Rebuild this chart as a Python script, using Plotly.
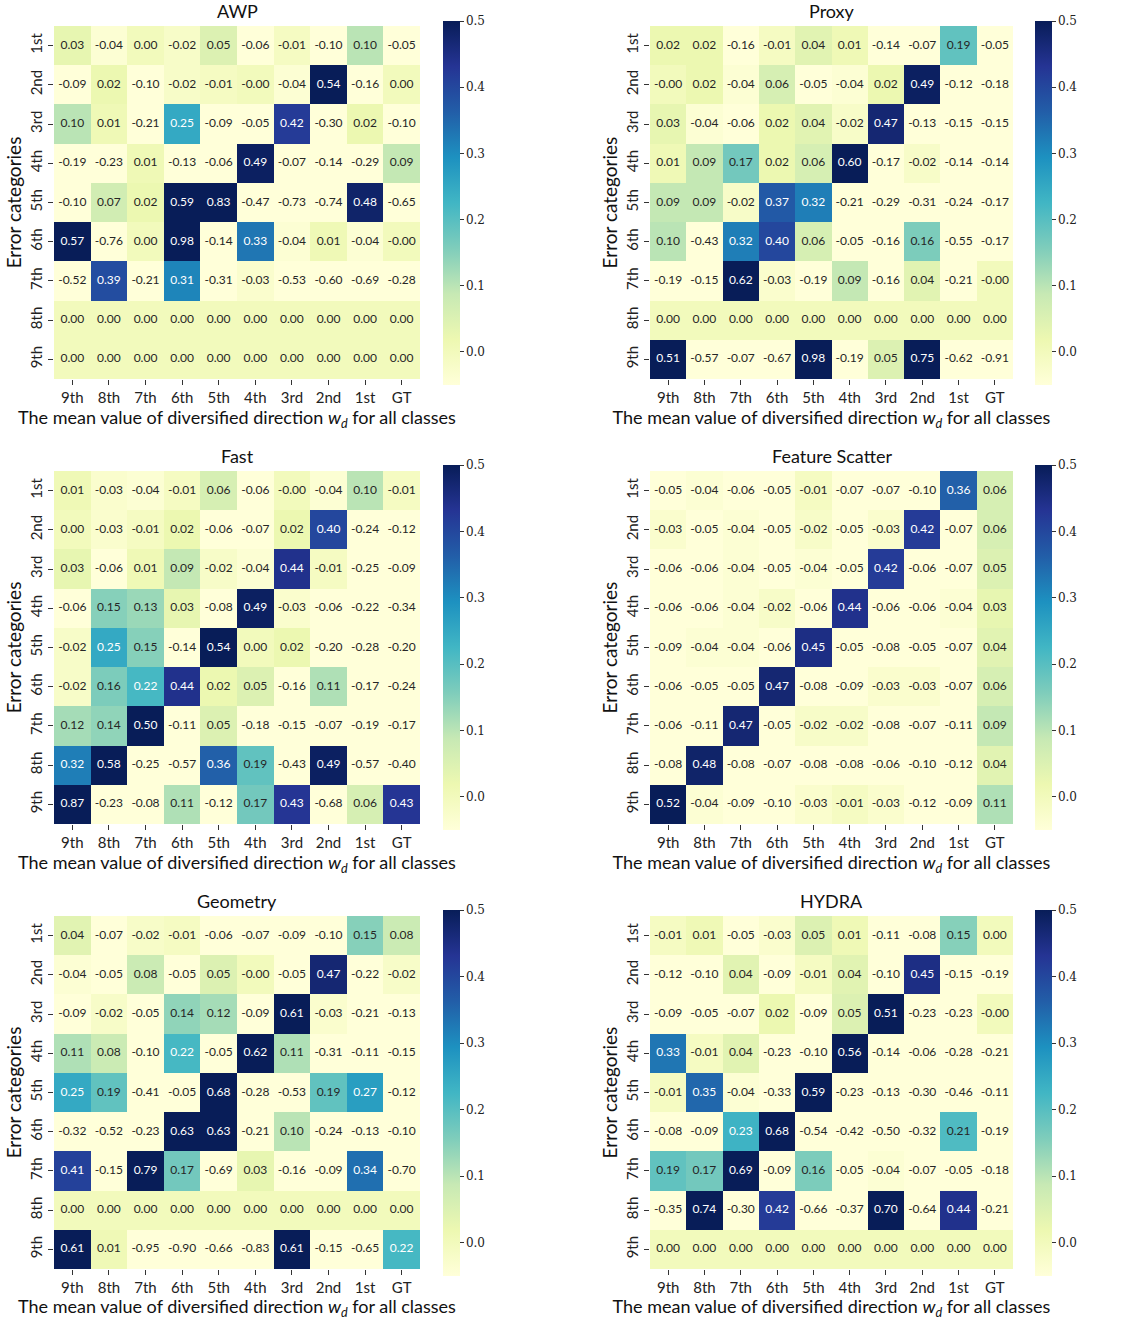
import plotly.graph_objects as go
from plotly.subplots import make_subplots

x_labels = ["9th", "8th", "7th", "6th", "5th", "4th", "3rd", "2nd", "1st", "GT"]
y_labels = ["1st", "2nd", "3rd", "4th", "5th", "6th", "7th", "8th", "9th"]
Z = [0.0] * 10

awp = [
    [0.03, -0.04, 0.00, -0.02, 0.05, -0.06, -0.01, -0.10, 0.10, -0.05],
    [-0.09, 0.02, -0.10, -0.02, -0.01, -0.0, -0.04, 0.54, -0.16, 0.00],
    [0.10, 0.01, -0.21, 0.25, -0.09, -0.05, 0.42, -0.30, 0.02, -0.10],
    [-0.19, -0.23, 0.01, -0.13, -0.06, 0.49, -0.07, -0.14, -0.29, 0.09],
    [-0.10, 0.07, 0.02, 0.59, 0.83, -0.47, -0.73, -0.74, 0.48, -0.65],
    [0.57, -0.76, 0.00, 0.98, -0.14, 0.33, -0.04, 0.01, -0.04, -0.0],
    [-0.52, 0.39, -0.21, 0.31, -0.31, -0.03, -0.53, -0.60, -0.69, -0.28],
    list(Z),
    list(Z),
]
proxy = [
    [0.02, 0.02, -0.16, -0.01, 0.04, 0.01, -0.14, -0.07, 0.19, -0.05],
    [-0.0, 0.02, -0.04, 0.06, -0.05, -0.04, 0.02, 0.49, -0.12, -0.18],
    [0.03, -0.04, -0.06, 0.02, 0.04, -0.02, 0.47, -0.13, -0.15, -0.15],
    [0.01, 0.09, 0.17, 0.02, 0.06, 0.60, -0.17, -0.02, -0.14, -0.14],
    [0.09, 0.09, -0.02, 0.37, 0.32, -0.21, -0.29, -0.31, -0.24, -0.17],
    [0.10, -0.43, 0.32, 0.40, 0.06, -0.05, -0.16, 0.16, -0.55, -0.17],
    [-0.19, -0.15, 0.62, -0.03, -0.19, 0.09, -0.16, 0.04, -0.21, -0.0],
    list(Z),
    [0.51, -0.57, -0.07, -0.67, 0.98, -0.19, 0.05, 0.75, -0.62, -0.91],
]
fast = [
    [0.01, -0.03, -0.04, -0.01, 0.06, -0.06, -0.0, -0.04, 0.10, -0.01],
    [0.00, -0.03, -0.01, 0.02, -0.06, -0.07, 0.02, 0.40, -0.24, -0.12],
    [0.03, -0.06, 0.01, 0.09, -0.02, -0.04, 0.44, -0.01, -0.25, -0.09],
    [-0.06, 0.15, 0.13, 0.03, -0.08, 0.49, -0.03, -0.06, -0.22, -0.34],
    [-0.02, 0.25, 0.15, -0.14, 0.54, 0.00, 0.02, -0.20, -0.28, -0.20],
    [-0.02, 0.16, 0.22, 0.44, 0.02, 0.05, -0.16, 0.11, -0.17, -0.24],
    [0.12, 0.14, 0.50, -0.11, 0.05, -0.18, -0.15, -0.07, -0.19, -0.17],
    [0.32, 0.58, -0.25, -0.57, 0.36, 0.19, -0.43, 0.49, -0.57, -0.40],
    [0.87, -0.23, -0.08, 0.11, -0.12, 0.17, 0.43, -0.68, 0.06, 0.43],
]
feature_scatter = [
    [-0.05, -0.04, -0.06, -0.05, -0.01, -0.07, -0.07, -0.10, 0.36, 0.06],
    [-0.03, -0.05, -0.04, -0.05, -0.02, -0.05, -0.03, 0.42, -0.07, 0.06],
    [-0.06, -0.06, -0.04, -0.05, -0.04, -0.05, 0.42, -0.06, -0.07, 0.05],
    [-0.06, -0.06, -0.04, -0.02, -0.06, 0.44, -0.06, -0.06, -0.04, 0.03],
    [-0.09, -0.04, -0.04, -0.06, 0.45, -0.05, -0.08, -0.05, -0.07, 0.04],
    [-0.06, -0.05, -0.05, 0.47, -0.08, -0.09, -0.03, -0.03, -0.07, 0.06],
    [-0.06, -0.11, 0.47, -0.05, -0.02, -0.02, -0.08, -0.07, -0.11, 0.09],
    [-0.08, 0.48, -0.08, -0.07, -0.08, -0.08, -0.06, -0.10, -0.12, 0.04],
    [0.52, -0.04, -0.09, -0.10, -0.03, -0.01, -0.03, -0.12, -0.09, 0.11],
]
geometry = [
    [0.04, -0.07, -0.02, -0.01, -0.06, -0.07, -0.09, -0.10, 0.15, 0.08],
    [-0.04, -0.05, 0.08, -0.05, 0.05, -0.0, -0.05, 0.47, -0.22, -0.02],
    [-0.09, -0.02, -0.05, 0.14, 0.12, -0.09, 0.61, -0.03, -0.21, -0.13],
    [0.11, 0.08, -0.10, 0.22, -0.05, 0.62, 0.11, -0.31, -0.11, -0.15],
    [0.25, 0.19, -0.41, -0.05, 0.68, -0.28, -0.53, 0.19, 0.27, -0.12],
    [-0.32, -0.52, -0.23, 0.63, 0.63, -0.21, 0.10, -0.24, -0.13, -0.10],
    [0.41, -0.15, 0.79, 0.17, -0.69, 0.03, -0.16, -0.09, 0.34, -0.70],
    list(Z),
    [0.61, 0.01, -0.95, -0.90, -0.66, -0.83, 0.61, -0.15, -0.65, 0.22],
]
hydra = [
    [-0.01, 0.01, -0.05, -0.03, 0.05, 0.01, -0.11, -0.08, 0.15, 0.00],
    [-0.12, -0.10, 0.04, -0.09, -0.01, 0.04, -0.10, 0.45, -0.15, -0.19],
    [-0.09, -0.05, -0.07, 0.02, -0.09, 0.05, 0.51, -0.23, -0.23, -0.0],
    [0.33, -0.01, 0.04, -0.23, -0.10, 0.56, -0.14, -0.06, -0.28, -0.21],
    [-0.01, 0.35, -0.04, -0.33, 0.59, -0.23, -0.13, -0.30, -0.46, -0.11],
    [-0.08, -0.09, 0.23, 0.68, -0.54, -0.42, -0.50, -0.32, 0.21, -0.19],
    [0.19, 0.17, 0.69, -0.09, 0.16, -0.05, -0.04, -0.07, -0.05, -0.18],
    [-0.35, 0.74, -0.30, 0.42, -0.66, -0.37, 0.70, -0.64, 0.44, -0.21],
    list(Z),
]

panels = [
    ("AWP", awp), ("Proxy", proxy),
    ("Fast", fast), ("Feature Scatter", feature_scatter),
    ("Geometry", geometry), ("HYDRA", hydra),
]

ylgnbu = ['#ffffd9', '#edf8b1', '#c7e9b4', '#7fcdbb', '#41b6c4',
          '#1d91c0', '#225ea8', '#253494', '#081d58']
colorscale = [[i / 8, c] for i, c in enumerate(ylgnbu)]
ZMIN, ZMAX = -0.05, 0.5

W, H = 1126, 1320
col_px = [(54, 420), (650, 1013)]
row_px = [(26, 379), (471, 824), (916, 1269)]
cbar_x_px = [443, 1035]
cbar_px = [(21, 385), (465, 830), (910, 1276)]

fig = make_subplots(rows=3, cols=2)

SANS = "Lato, 'DejaVu Sans', sans-serif"
SERIF = "'DejaVu Serif', 'Liberation Serif', serif"

for idx, (name, data) in enumerate(panels):
    r, c = divmod(idx, 2)
    x0, x1 = col_px[c]
    y0, y1 = row_px[r]
    cy0, cy1 = cbar_px[r]
    fig.add_trace(go.Heatmap(
        z=data, x=x_labels, y=y_labels, colorscale=colorscale,
        zmin=ZMIN, zmax=ZMAX, xgap=0, ygap=0, hoverinfo="skip",
        colorbar=dict(
            x=cbar_x_px[c] / W, xanchor="left", xref="paper",
            y=1 - (cy0 + cy1) / 2 / H, yanchor="middle",
            len=(cy1 - cy0) / H, lenmode="fraction",
            thickness=17, thicknessmode="pixels", outlinewidth=0,
            xpad=0, ypad=0,
            tickvals=[0.0, 0.1, 0.2, 0.3, 0.4, 0.5],
            ticktext=["0.0", "0.1", "0.2", "0.3", "0.4", "0.5"],
            ticks="outside", ticklen=4, tickcolor="#333",
            tickfont=dict(family=SERIF, size=12, color="#222"),
        ),
    ), row=r + 1, col=c + 1)
    xs, ys, txt, cols = [], [], [], []
    for i, yl in enumerate(y_labels):
        for j, xl in enumerate(x_labels):
            v = data[i][j]
            xs.append(xl)
            ys.append(yl)
            txt.append(f"{v:.2f}")
            cols.append("white" if v > 0.215 else "#262626")
    fig.add_trace(go.Scatter(
        x=xs, y=ys, mode="text", text=txt, hoverinfo="skip",
        textfont=dict(family=SANS, size=12, color=cols), showlegend=False,
    ), row=r + 1, col=c + 1)
    ax = "" if idx == 0 else str(idx + 1)
    fig.update_layout({
        f"xaxis{ax}": dict(
            domain=[x0 / W, x1 / W], showgrid=False, zeroline=False,
            ticks="outside", ticklen=5, tickcolor="#333", automargin=False,
            tickfont=dict(family=SANS, size=15, color="#222"),
            title=dict(text="The mean value of diversified direction <i>w<sub>d</sub></i> for all classes",
                       font=dict(family=SANS, size=18, color="#111"), standoff=5),
            showline=False, fixedrange=True,
        ),
        f"yaxis{ax}": dict(
            domain=[1 - y1 / H, 1 - y0 / H], showgrid=False, zeroline=False,
            autorange="reversed", ticks="outside", ticklen=5, tickcolor="#333",
            tickangle=-90, automargin=False,
            tickfont=dict(family=SANS, size=15, color="#222"),
            title=dict(text="Error categories",
                       font=dict(family=SANS, size=19, color="#111"), standoff=0),
            showline=False, fixedrange=True,
        ),
    })
    fig.add_annotation(
        x=(x0 + x1) / 2 / W, y=1 - (y0 - 15) / H, xref="paper", yref="paper",
        text=name, showarrow=False, xanchor="center", yanchor="middle",
        font=dict(family=SANS, size=18, color="#111"),
    )

fig.update_layout(
    width=W, height=H, margin=dict(l=0, r=0, t=0, b=0, autoexpand=False),
    paper_bgcolor="white", plot_bgcolor="white", showlegend=False,
)

fig.write_html(
    "out.html",
    config={"displayModeBar": False},
    post_script="document.body.style.margin='0';document.body.style.padding='0';",
)
